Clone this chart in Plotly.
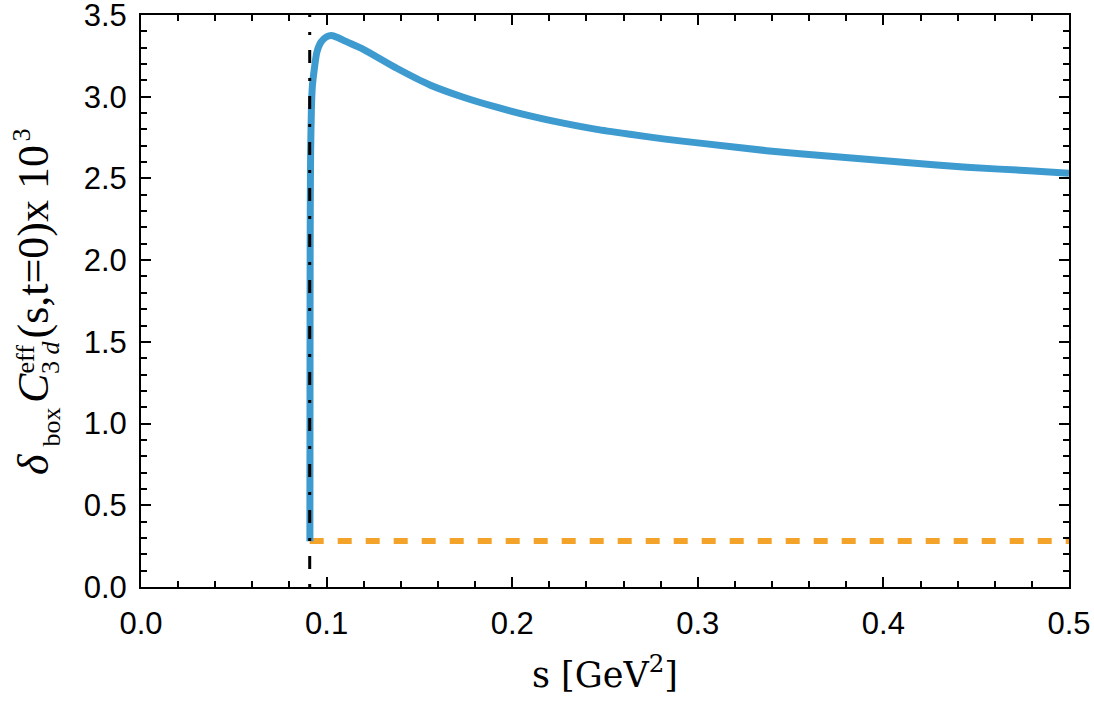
import plotly.graph_objects as go

# ---- data ----
s_threshold = 0.0909          # vertical dot-dashed line (GeV^2)
delta_const = 0.281           # orange dashed level

s_vals = [0.0910, 0.09105, 0.0911, 0.0912, 0.0914, 0.0918, 0.0923, 0.0935, 0.0947,
          0.0970, 0.1000, 0.1027, 0.1060, 0.1100, 0.1198, 0.1378, 0.1557, 0.1737,
          0.1916, 0.2096, 0.2275, 0.2455, 0.2635, 0.2814, 0.3012, 0.3371, 0.3730,
          0.4090, 0.4449, 0.4808, 0.5000]
delta_vals = [0.28, 1.00, 1.80, 2.30, 2.66, 2.92, 3.06, 3.18, 3.27,
              3.335, 3.367, 3.375, 3.362, 3.340, 3.290, 3.174, 3.072, 2.997,
              2.936, 2.883, 2.838, 2.800, 2.770, 2.742, 2.716, 2.670, 2.634,
              2.600, 2.568, 2.546, 2.532]

x_range = [0, 0.5]
y_range = [0, 3.5]

W, H = 1094, 707
L, R, T, B = 141, 25, 15, 120
PW, PH = W - L - R, H - T - B

fig = go.Figure()
fig.add_trace(go.Scatter(x=[s_threshold, x_range[1]], y=[delta_const, delta_const],
                         mode="lines", line=dict(color="#F4A32A", width=6, dash="14px,14px"),
                         showlegend=False))
fig.add_trace(go.Scatter(x=s_vals, y=delta_vals, mode="lines",
                         line=dict(color="#3E9BCF", width=7, shape="spline", smoothing=0.6),
                         showlegend=False))
fig.add_trace(go.Scatter(x=[s_threshold, s_threshold], y=y_range, mode="lines",
                         line=dict(color="black", width=3, dash="3px,15px,13px,15px"),
                         showlegend=False))

tickfont = dict(family="Liberation Sans, Arial", size=31, color="black")
axis_common = dict(showgrid=False, zeroline=False, showline=True, linecolor="black",
                   linewidth=2, mirror="ticks", ticks="inside", ticklen=10, tickwidth=1.5,
                   tickcolor="black", tickfont=tickfont, tickformat=".1f", automargin=False,
                   ticklabeloverflow="allow")

fig.update_xaxes(range=x_range, dtick=0.1, ticklabelstandoff=8,
                 minor=dict(dtick=0.02, ticks="inside", ticklen=6, tickwidth=1.5, tickcolor="black"),
                 **axis_common)
fig.update_yaxes(range=y_range, dtick=0.5, ticklabelstandoff=6,
                 minor=dict(dtick=0.1, ticks="inside", ticklen=6, tickwidth=1.5, tickcolor="black"),
                 **axis_common)


def px_x(x):
    return (x - L) / PW


def px_y(y):
    return (H - B - y) / PH


# y-axis label built from rotated pieces so that sup/sub can be stacked
serif = "Liberation Serif, Times New Roman"
F_MAIN, F_SMALL = 44, 26
ylabel_parts = [
    # text, font size, x centre (px), start y (px)
    ("<i>δ</i>", F_MAIN, 33, 477),
    ("box", F_SMALL, 51, 449),
    ("<i>C</i>", F_MAIN, 33, 405),
    ("eff", F_SMALL, 25, 376),
    ("3 <i>d</i>", F_SMALL, 51, 376),
    ("(s,t=0)x 10", F_MAIN, 33, 341),
    ("3", F_SMALL, 21, 143),
]
for txt, fs, xc, ys in ylabel_parts:
    fig.add_annotation(text=txt, xref="paper", yref="paper", x=px_x(xc), y=px_y(ys),
                       xanchor="center", yanchor="bottom", textangle=-90, showarrow=False,
                       font=dict(family=serif, size=fs, color="black"))

fig.add_annotation(text="s [GeV<sup>2</sup>]", xref="paper", yref="paper", x=0.5, y=px_y(672),
                   xanchor="center", yanchor="middle", showarrow=False,
                   font=dict(family="DejaVu Serif", size=35, color="black"))

fig.update_layout(width=W, height=H, plot_bgcolor="white", paper_bgcolor="white",
                  margin=dict(l=L, r=R, t=T, b=B))

fig.write_html("out.html", post_script="document.body.style.margin='0px';",
               config={"displayModeBar": False})
